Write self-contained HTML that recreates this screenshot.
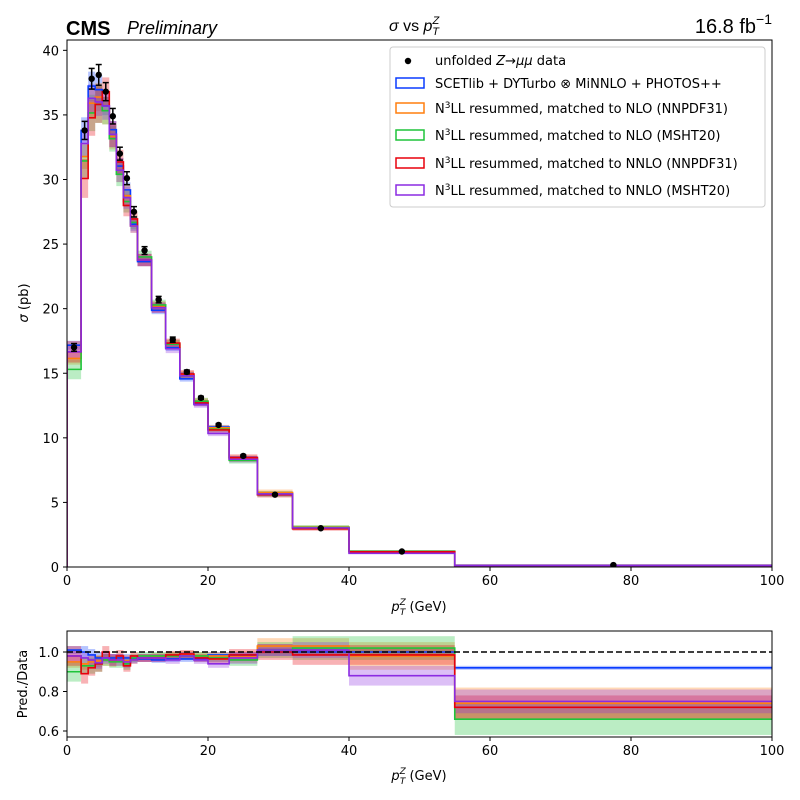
<!DOCTYPE html>
<html><head><meta charset="utf-8"><style>
body{margin:0;background:#fff;}
svg{display:block;font-family:"DejaVu Sans","Liberation Sans",sans-serif;}
</style></head><body>
<svg id="c" width="800" height="800" viewBox="0 0 800 800"></svg>
<script>
const edges=[0,2,3,4,5,6,7,8,9,10,12,14,16,18,20,23,27,32,40,55,100];
const data=[17.0,33.8,37.8,38.1,36.8,34.9,32.0,30.1,27.5,24.5,20.7,17.6,15.1,13.1,11.0,8.6,5.6,3.0,1.2,0.15];
const dataErr=[0.3,0.7,0.8,0.8,0.7,0.6,0.5,0.5,0.4,0.3,0.25,0.2,0.15,0.12,0.1,0.08,0.06,0.04,0.02,0.005];
const ratioBlue=[1.01,1.0,0.985,0.97,0.97,0.97,0.97,0.97,0.965,0.965,0.96,0.965,0.965,0.965,0.985,0.985,1.0,1.0,1.0,0.92];
const ratioOrange=[0.95,0.94,0.95,0.955,0.96,0.955,0.96,0.955,0.96,0.97,0.975,0.98,0.985,0.98,0.98,0.975,1.03,1.03,0.98,0.74];
const ratioGreen=[0.90,0.93,0.93,0.94,0.96,0.95,0.95,0.94,0.97,0.98,0.98,0.98,0.98,0.98,0.97,0.96,1.01,1.02,1.02,0.66];
const ratioRed=[0.98,0.89,0.92,0.94,1.0,0.96,0.98,0.93,0.98,0.97,0.97,0.985,0.99,0.97,0.965,0.985,1.0,0.985,0.985,0.72];
const ratioPurple=[0.98,0.97,0.96,0.945,0.97,0.96,0.96,0.95,0.96,0.97,0.97,0.96,0.98,0.96,0.94,0.97,1.01,1.01,0.88,0.75];
const uncBlue=[0.02,0.03,0.03,0.03,0.02,0.02,0.02,0.02,0.02,0.015,0.015,0.015,0.015,0.015,0.015,0.015,0.02,0.02,0.02,0.01];
const uncOrange=[0.03,0.03,0.03,0.03,0.03,0.03,0.03,0.03,0.02,0.02,0.02,0.02,0.02,0.02,0.02,0.03,0.04,0.04,0.07,0.08];
const uncGreen=[0.05,0.04,0.04,0.04,0.03,0.03,0.03,0.03,0.02,0.02,0.02,0.02,0.02,0.02,0.02,0.03,0.04,0.06,0.06,0.08];
const uncRed=[0.05,0.05,0.04,0.04,0.03,0.03,0.03,0.03,0.02,0.02,0.02,0.02,0.02,0.02,0.02,0.03,0.04,0.05,0.05,0.06];
const uncPurple=[0.03,0.03,0.03,0.03,0.03,0.03,0.03,0.03,0.02,0.02,0.02,0.02,0.02,0.02,0.02,0.03,0.03,0.04,0.05,0.06];
const xTicks=[0,20,40,60,80,100];
const yTicks=[0,5,10,15,20,25,30,35,40];
const rTicks=[0.6,0.8,1.0];

const series=[
 {name:'blue',col:'#0a3cff',r:ratioBlue,u:uncBlue},
 {name:'orange',col:'#ff7f0e',r:ratioOrange,u:uncOrange},
 {name:'green',col:'#1fc43a',r:ratioGreen,u:uncGreen},
 {name:'red',col:'#e8000b',r:ratioRed,u:uncRed},
 {name:'purple',col:'#8b2be2',r:ratioPurple,u:uncPurple}
];
const NS='http://www.w3.org/2000/svg';
const svg=document.getElementById('c');
const X0=67,X1=772,MT=40,MB=567,RT=631,RB=737;
const xs=v=>X0+(v-0)/(100)*(X1-X0);
const ys=v=>MB-v*(MB-MT)/40.8;
const rs=v=>652-(v-1)*197.5;
function el(t,a,p){const e=document.createElementNS(NS,t);for(const k in a)e.setAttribute(k,a[k]);(p||svg).appendChild(e);return e;}
function txt(s,a,p){const e=el('text',a,p);e.textContent=s;return e;}
function clip(id,y0,y1){const cp=el('clipPath',{id:id});el('rect',{x:X0,y:y0,width:X1-X0,height:y1-y0},cp);}
clip('cm',MT,MB);clip('cr',RT,RB);
function stepPath(vals,fy){let d='';for(let i=0;i<vals.length;i++){const x0=xs(edges[i]),x1=xs(edges[i+1]),y=fy(vals[i]);d+=(i?'L':'M')+x0+','+y+'L'+x1+','+y;}return d;}
const gm=el('g',{'clip-path':'url(#cm)'});

const gr=el('g',{'clip-path':'url(#cr)'});

// bands
series.forEach(s=>{
 for(let i=0;i<data.length;i++){
  const p=s.r[i]*data[i],u=s.u[i];
  const b=el('rect',{x:xs(edges[i]),width:xs(edges[i+1])-xs(edges[i]),y:ys(p*(1+u)),height:ys(p*(1-u))-ys(p*(1+u)),fill:s.col,'fill-opacity':0.3},gm);
  
  const b2=el('rect',{x:xs(edges[i]),width:xs(edges[i+1])-xs(edges[i]),y:rs(s.r[i]+u),height:rs(s.r[i]-u)-rs(s.r[i]+u),fill:s.col,'fill-opacity':0.3},gr);
  
 }
});
series.forEach(s=>{
 const pv=data.map((d,i)=>d*s.r[i]);
 let d=stepPath(pv,ys);d='M'+X0+','+ys(0)+'L'+d.slice(1)+'L'+X1+','+ys(0);
 const l=el('path',{d:d,fill:'none',stroke:s.col,'stroke-width':1.6},gm);
 
 const l2=el('path',{d:stepPath(s.r,rs),fill:'none',stroke:s.col,'stroke-width':1.6},gr);
 
});
// unity line
const ul=el('line',{x1:X0,x2:X1,y1:rs(1),y2:rs(1),stroke:'#000','stroke-width':1.6,'stroke-dasharray':'6,3'},gr);

// data points
for(let i=0;i<data.length;i++){
 const cx=xs((edges[i]+edges[i+1])/2);
 const g=el('g',{},gm);
 
 el('line',{x1:cx,x2:cx,y1:ys(data[i]+dataErr[i]),y2:ys(data[i]-dataErr[i]),stroke:'#000','stroke-width':1.5},g);
 el('line',{x1:cx-3,x2:cx+3,y1:ys(data[i]+dataErr[i]),y2:ys(data[i]+dataErr[i]),stroke:'#000','stroke-width':1.5},g);
 el('line',{x1:cx-3,x2:cx+3,y1:ys(data[i]-dataErr[i]),y2:ys(data[i]-dataErr[i]),stroke:'#000','stroke-width':1.5},g);
 el('circle',{cx:cx,cy:ys(data[i]),r:3.2,fill:'#000'},g);
}
// frames
const f1=el('rect',{x:X0,y:MT,width:X1-X0,height:MB-MT,fill:'none',stroke:'#000','stroke-width':1});

const f2=el('rect',{x:X0,y:RT,width:X1-X0,height:RB-RT,fill:'none',stroke:'#000','stroke-width':1});

// ticks
xTicks.forEach(t=>{
 [[MB,'x-tick-main'],[RB,'x-tick-ratio']].forEach(([yb,nm])=>{
  el('line',{x1:xs(t),x2:xs(t),y1:yb,y2:yb+4,stroke:'#000'});
  const tl=txt(t,{x:xs(t),y:yb+18,'text-anchor':'middle','font-size':13});
  
 });
});
yTicks.forEach(t=>{
 el('line',{x1:X0-4,x2:X0,y1:ys(t),y2:ys(t),stroke:'#000'});
 const tl=txt(t,{x:X0-8,y:ys(t)+5,'text-anchor':'end','font-size':13});
 
});
rTicks.forEach(t=>{
 el('line',{x1:X0-4,x2:X0,y1:rs(t),y2:rs(t),stroke:'#000'});
 const tl=txt(t.toFixed(1),{x:X0-8,y:rs(t)+5,'text-anchor':'end','font-size':13});
 
});
function xlab(y,nm){const t=el('text',{x:419,y:y,'text-anchor':'middle','font-size':13});t.innerHTML='<tspan font-style="italic">p</tspan><tspan font-style="italic" font-size="9" dy="-6">Z</tspan><tspan font-style="italic" font-size="9" dx="-6" dy="10">T</tspan><tspan dy="-4"> (GeV)</tspan>';}
xlab(611,'x-axis-title');xlab(780,'ratio-x-axis-title');
const yl=el('text',{transform:'translate(28,303) rotate(-90)','text-anchor':'middle','font-size':13});
yl.innerHTML='<tspan font-style="italic">σ</tspan> (pb)';

const yl2=txt('Pred./Data',{transform:'translate(27,684) rotate(-90)','text-anchor':'middle','font-size':13});

// header
const cms=txt('CMS',{x:66,y:35,'font-size':20,'font-weight':'bold','font-family':'Liberation Sans'});

const pre=txt('Preliminary',{x:127,y:34,'font-size':18,'font-style':'italic','font-family':'Liberation Sans'});

const tt=el('text',{x:389,y:31,'font-size':16,'font-family':'Liberation Sans'});
tt.innerHTML='<tspan font-style="italic">σ</tspan> vs <tspan font-style="italic">p</tspan><tspan font-style="italic" font-size="11" dy="-7">Z</tspan><tspan font-style="italic" font-size="11" dx="-7" dy="11">T</tspan>';

const lumi=el('text',{x:772,y:33,'text-anchor':'end','font-size':20,'font-family':'Liberation Sans'});
lumi.innerHTML='16.8 fb<tspan font-size="14" dy="-9">−1</tspan>';

// legend
const lg=el('g',{});
el('rect',{x:390,y:47,width:375,height:160,rx:3,fill:'#fff','fill-opacity':0.85,stroke:'#ccc'},lg);
const le0=el('g',{},lg);
el('circle',{cx:408,cy:61,r:3.2,fill:'#000'},le0);
const lt0=el('text',{x:435,y:65,'font-size':13},le0);lt0.innerHTML='unfolded <tspan font-style="italic">Z</tspan>→<tspan font-style="italic">μμ</tspan> data';
const labels=['SCETlib + DYTurbo ⊗ MiNNLO + PHOTOS++','resummed, matched to NLO (NNPDF31)','resummed, matched to NLO (MSHT20)','resummed, matched to NNLO (NNPDF31)','resummed, matched to NNLO (MSHT20)'];
const ly=[83,108,135,163,190];
series.forEach((s,i)=>{
 const g=el('g',{},lg);
 el('rect',{x:396,y:ly[i]-5,width:28,height:10,fill:'none',stroke:s.col,'stroke-width':1.5},g);
 const t=el('text',{x:435,y:ly[i]+5,'font-size':13},g);
 if(i===0)t.textContent=labels[0];
 else t.innerHTML='N<tspan font-size="9" dy="-5">3</tspan><tspan dy="5">LL '+labels[i]+'</tspan>';
});
</script>
</body></html>
